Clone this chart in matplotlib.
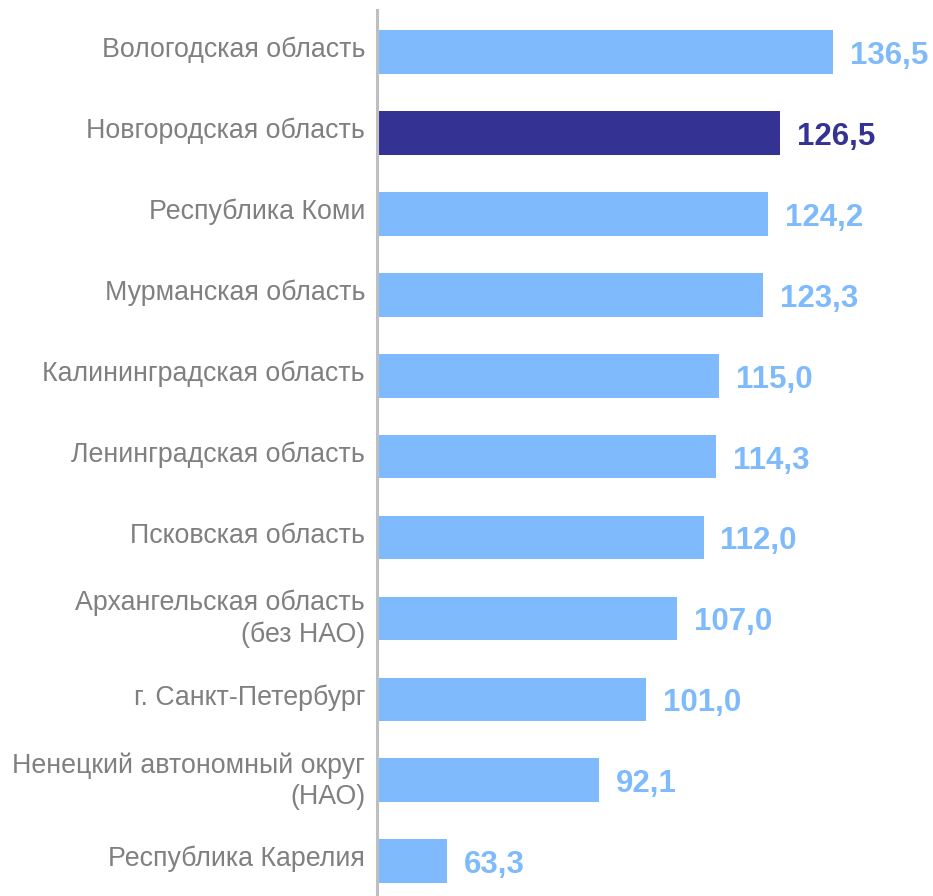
import matplotlib
matplotlib.use("Agg")
import matplotlib.pyplot as plt
from matplotlib.transforms import ScaledTranslation

regions = [
    "Вологодская область",
    "Новгородская область",
    "Республика Коми",
    "Мурманская область",
    "Калининградская область",
    "Ленинградская область",
    "Псковская область",
    "Архангельская область\n(без НАО)",
    "г. Санкт-Петербург",
    "Ненецкий автономный округ\n(НАО)",
    "Республика Карелия",
]
values = [136.5, 126.5, 124.2, 123.3, 115.0, 114.3, 112.0, 107.0, 101.0, 92.1, 63.3]
highlight = "Новгородская область"

light = "#7FBBFC"
dark = "#343394"
gray_text = "#808080"

plt.rcParams['font.family'] = ['Liberation Sans', 'DejaVu Sans']

fig = plt.figure(figsize=(9.33, 8.96), dpi=100)
ax = fig.add_axes([377/933, 0, (930-377)/933, (896-10)/896])

colors = [dark if r == highlight else light for r in regions]
pos = list(range(len(regions)))
ax.barh(pos, values, height=0.54, color=colors, left=0)
ax.set_xlim(50, 155)
ax.set_ylim(10.43, -0.52)

for p, v, c in zip(pos, values, colors):
    ax.annotate(f"{v:.1f}".replace(".", ","), xy=(v, p), xytext=(12.2, -8.6),
                textcoords="offset points", va="baseline", ha="left",
                fontsize=22.5, fontweight="bold", color=c)

ax.set_yticks(pos)
ax.set_yticklabels(regions, fontsize=19.25, color=gray_text, linespacing=1.25)
ax.tick_params(axis="y", length=0, pad=8.6)
shift = ScaledTranslation(0, 5/100, fig.dpi_scale_trans)
for lbl in ax.get_yticklabels():
    lbl.set_transform(lbl.get_transform() + shift)
ax.set_xticks([])
for s in ["top", "right", "bottom"]:
    ax.spines[s].set_visible(False)
ax.spines["left"].set_color("#BFBFBF")
ax.spines["left"].set_linewidth(2.2)

fig.savefig("out.png", dpi=100)
